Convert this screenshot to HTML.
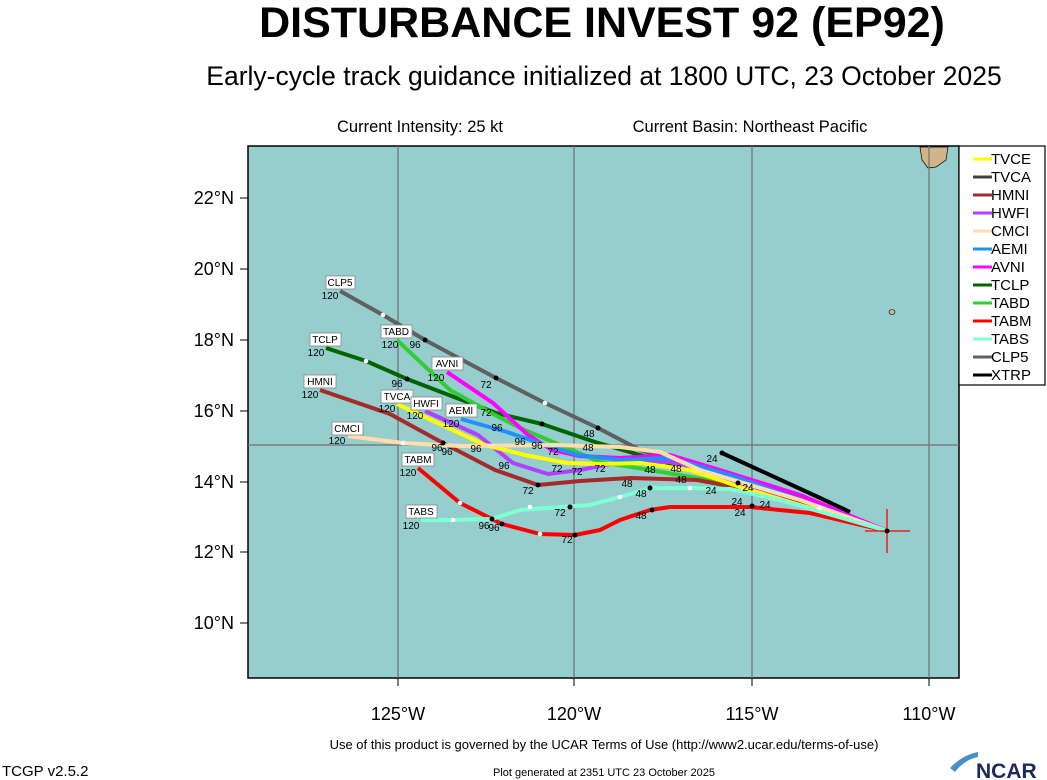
<!DOCTYPE html>
<html><head><style>
body{margin:0;background:#fff;}
svg{display:block;font-family:"Liberation Sans",Arial,sans-serif;}
</style></head><body>
<svg width="1047" height="780" viewBox="0 0 1047 780">
<text x="602" y="37" text-anchor="middle" font-size="43" font-weight="bold">DISTURBANCE INVEST 92 (EP92)</text>
<text x="604" y="85" text-anchor="middle" font-size="26.5">Early-cycle track guidance initialized at 1800 UTC, 23 October 2025</text>
<text x="420" y="132" text-anchor="middle" font-size="16.5">Current Intensity: 25 kt</text>
<text x="750" y="132" text-anchor="middle" font-size="16.5">Current Basin: Northeast Pacific</text>
<rect x="248" y="146" width="711" height="532" fill="#96cdcd" stroke="#000" stroke-width="1.5"/>
<path d="M920,147 L948,147 L946,160 L936,167 L928,168 L922,160 Z" fill="#d2b48c" stroke="#000" stroke-width="0.7"/>
<ellipse cx="892" cy="312" rx="3" ry="2.5" fill="#d2b48c" stroke="#000" stroke-width="0.6"/>
<g stroke="#707070" stroke-width="1.2">
<line x1="398" y1="146" x2="398" y2="678"/><line x1="574" y1="146" x2="574" y2="678"/><line x1="752" y1="146" x2="752" y2="678"/><line x1="929" y1="146" x2="929" y2="678"/>
<line x1="248" y1="445" x2="959" y2="445"/>
</g>
<g stroke="#000" stroke-width="1">
<line x1="240" y1="198" x2="248" y2="198"/><line x1="240" y1="269" x2="248" y2="269"/><line x1="240" y1="340" x2="248" y2="340"/><line x1="240" y1="411" x2="248" y2="411"/><line x1="240" y1="482" x2="248" y2="482"/><line x1="240" y1="552" x2="248" y2="552"/><line x1="240" y1="623" x2="248" y2="623"/>
<line x1="398" y1="678" x2="398" y2="686"/><line x1="574" y1="678" x2="574" y2="686"/><line x1="752" y1="678" x2="752" y2="686"/><line x1="929" y1="678" x2="929" y2="686"/>
</g>
<g font-size="18" text-anchor="end">
<text x="234" y="204">22°N</text><text x="234" y="275">20°N</text><text x="234" y="346">18°N</text><text x="234" y="417">16°N</text><text x="234" y="488">14°N</text><text x="234" y="558">12°N</text><text x="234" y="629">10°N</text>
</g>
<g font-size="18" text-anchor="middle">
<text x="398" y="720">125°W</text><text x="574" y="720">120°W</text><text x="752" y="720">115°W</text><text x="929" y="720">110°W</text>
</g>
<g fill="none" stroke-width="4" stroke-linejoin="round">
<polyline stroke="#606060" points="340,291 383,315 425,340 496,378 545,403 598,428 640,450 700,470 780,492 887,531"/>
<polyline stroke="#006400" points="326,348 366,361 407,379 496,413 542,424 595,442 640,455 700,472 780,494 887,531"/>
<polyline stroke="#32cd32" points="397,340 450,390 495,415 520,428 560,445 600,462 650,470 720,482 887,531"/>
<polyline stroke="#ff00ff" points="447,372 493,403 528,435 552,450 580,456 620,458 670,455 720,470 800,495 887,531"/>
<polyline stroke="#a52a2a" points="320,390 390,414 443,443 495,470 538,485 580,481 630,478 697,480 740,488 820,508 887,531"/>
<polyline stroke="#b040ff" points="425,411 478,435 513,463 548,474 580,470 620,462 670,462 720,478 800,500 887,531"/>
<polyline stroke="#1e90ff" points="461,419 507,432 545,445 578,455 620,460 670,458 730,475 887,531"/>
<polyline stroke="#ffff00" points="397,404 485,445 525,455 567,463 600,464 640,463 690,470 740,487 800,505 887,531"/>
<polyline stroke="#ffdead" points="348,436 403,443 460,446 555,445 620,447 660,452 700,470 800,500 887,531"/>
<polyline stroke="#ff0000" points="418,468 460,503 502,524 540,534 575,535 600,530 620,520 650,510 670,507 750,507 810,513 887,531"/>
<polyline stroke="#7fffd4" points="421,520 453,520 492,519 520,510 560,507 590,505 620,497 650,488 690,488 730,489 780,500 887,531"/>
<polyline stroke="#000" points="722,453 818,497 850,512"/>
</g>
<g stroke="#f00" stroke-width="1.3"><line x1="887" y1="509" x2="887" y2="553"/><line x1="865" y1="531" x2="910" y2="531"/></g>
<g fill="#000"><circle cx="887" cy="531" r="2.5"/><circle cx="425" cy="340" r="2.5"/><circle cx="496" cy="378" r="2.5"/><circle cx="598" cy="428" r="2.5"/><circle cx="407" cy="379" r="2.5"/><circle cx="542" cy="424" r="2.5"/><circle cx="443" cy="443" r="2.5"/><circle cx="538" cy="485" r="2.5"/><circle cx="502" cy="524" r="2.5"/><circle cx="575" cy="535" r="2.5"/><circle cx="492" cy="519" r="2.5"/><circle cx="570" cy="507" r="2.5"/><circle cx="722" cy="453" r="2.5"/><circle cx="652" cy="510" r="2.5"/><circle cx="650" cy="488" r="2.5"/><circle cx="738" cy="483" r="2.5"/><circle cx="752" cy="506" r="2.5"/></g>
<g fill="#fff"><circle cx="383" cy="315" r="2.3"/><circle cx="545" cy="403" r="2.3"/><circle cx="366" cy="361" r="2.3"/><circle cx="460" cy="503" r="2.3"/><circle cx="540" cy="534" r="2.3"/><circle cx="453" cy="520" r="2.3"/><circle cx="530" cy="507" r="2.3"/><circle cx="620" cy="497" r="2.3"/><circle cx="403" cy="443" r="2.3"/><circle cx="690" cy="488" r="2.3"/><circle cx="820" cy="508" r="2.3"/></g>
<g font-size="10" text-anchor="middle">
<g fill="#fff" stroke="#888" stroke-width="0.8">
<rect x="326" y="276" width="29" height="13"/><rect x="310" y="333" width="31" height="13"/><rect x="304" y="375" width="32" height="13"/><rect x="381" y="325" width="31" height="13"/><rect x="432" y="357" width="31" height="13"/><rect x="381" y="390" width="32" height="13"/><rect x="411" y="397" width="31" height="13"/><rect x="446" y="404" width="31" height="13"/><rect x="332" y="422" width="31" height="13"/><rect x="402" y="453" width="32" height="13"/><rect x="406" y="505" width="31" height="13"/>
</g>
<text x="340" y="286">CLP5</text><text x="325" y="343">TCLP</text><text x="320" y="385">HMNI</text><text x="396" y="335">TABD</text><text x="447" y="367">AVNI</text><text x="397" y="400">TVCA</text><text x="426" y="407">HWFI</text><text x="461" y="414">AEMI</text><text x="347" y="432">CMCI</text><text x="418" y="463">TABM</text><text x="421" y="515">TABS</text>
<text x="330" y="299">120</text><text x="316" y="356">120</text><text x="310" y="398">120</text><text x="390" y="348">120</text><text x="436" y="381">120</text><text x="387" y="412">120</text><text x="415" y="419">120</text><text x="451" y="427">120</text><text x="337" y="444">120</text><text x="408" y="476">120</text><text x="411" y="529">120</text>
<text x="415" y="348">96</text><text x="397" y="387">96</text><text x="486" y="388">72</text><text x="486" y="416">72</text><text x="497" y="431">96</text><text x="476" y="452">96</text><text x="520" y="445">96</text><text x="537" y="449">96</text><text x="504" y="469">96</text><text x="553" y="455">72</text><text x="557" y="472">72</text><text x="528" y="494">72</text><text x="577" y="475">72</text><text x="600" y="472">72</text><text x="567" y="543">72</text><text x="560" y="516">72</text><text x="484" y="529">96</text><text x="494" y="531">96</text><text x="437" y="451">96</text><text x="447" y="455">96</text><text x="588" y="451">48</text><text x="589" y="437">48</text><text x="627" y="487">48</text><text x="641" y="497">48</text><text x="641" y="519">48</text><text x="650" y="473">48</text><text x="676" y="472">48</text><text x="681" y="483">48</text><text x="712" y="462">24</text><text x="711" y="494">24</text><text x="737" y="505">24</text><text x="740" y="516">24</text><text x="765" y="508">24</text><text x="748" y="491">24</text>
</g>
<rect x="959" y="146" width="86" height="239" fill="#fff" stroke="#000" stroke-width="1.2"/>
<g stroke-width="3">
<line x1="973" y1="159" x2="992" y2="159" stroke="#ffff00"/><line x1="973" y1="177" x2="992" y2="177" stroke="#404040"/><line x1="973" y1="195" x2="992" y2="195" stroke="#a52a2a"/><line x1="973" y1="213" x2="992" y2="213" stroke="#b040ff"/><line x1="973" y1="231" x2="992" y2="231" stroke="#ffdead"/><line x1="973" y1="249" x2="992" y2="249" stroke="#1e90ff"/><line x1="973" y1="267" x2="992" y2="267" stroke="#ff00ff"/><line x1="973" y1="285" x2="992" y2="285" stroke="#006400"/><line x1="973" y1="303" x2="992" y2="303" stroke="#32cd32"/><line x1="973" y1="321" x2="992" y2="321" stroke="#ff0000"/><line x1="973" y1="339" x2="992" y2="339" stroke="#7fffd4"/><line x1="973" y1="357" x2="992" y2="357" stroke="#606060"/><line x1="973" y1="375" x2="992" y2="375" stroke="#000"/>
</g>
<g font-size="15">
<text x="991" y="164">TVCE</text><text x="991" y="182">TVCA</text><text x="991" y="200">HMNI</text><text x="991" y="218">HWFI</text><text x="991" y="236">CMCI</text><text x="991" y="254">AEMI</text><text x="991" y="272">AVNI</text><text x="991" y="290">TCLP</text><text x="991" y="308">TABD</text><text x="991" y="326">TABM</text><text x="991" y="344">TABS</text><text x="991" y="362">CLP5</text><text x="991" y="380">XTRP</text>
</g>
<text x="604" y="749" text-anchor="middle" font-size="13">Use of this product is governed by the UCAR Terms of Use (http://www2.ucar.edu/terms-of-use)</text>
<text x="604" y="776" text-anchor="middle" font-size="11">Plot generated at 2351 UTC   23 October 2025</text>
<text x="2" y="776" font-size="15">TCGP v2.5.2</text>
<path d="M950,768 Q962,755 978,752 L978,757 Q964,760 955,772 Z" fill="#4a90c8"/>
<text x="976" y="778" font-size="21" font-weight="bold" fill="#1a2a5a">NCAR</text>
</svg>
</body></html>
